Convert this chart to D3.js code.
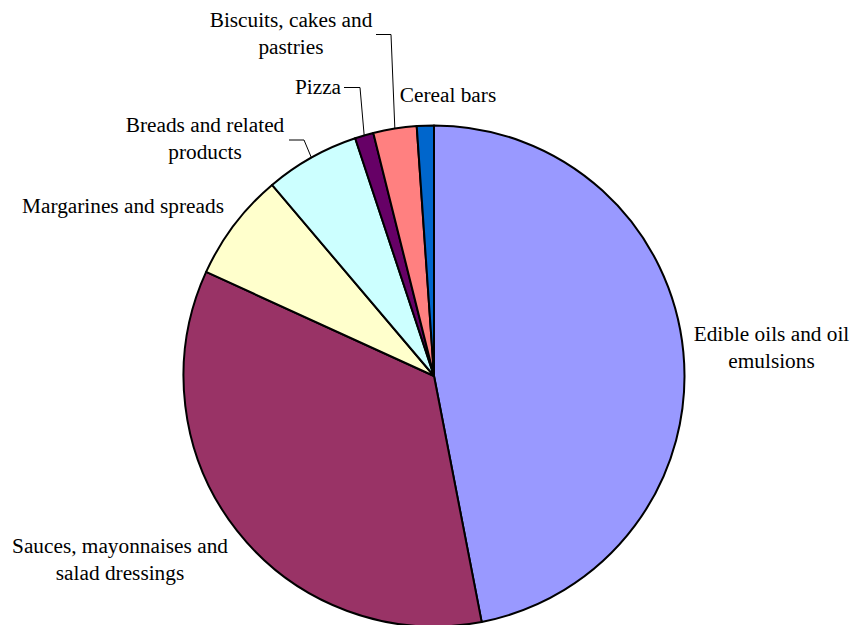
<!DOCTYPE html>
<html>
<head>
<meta charset="utf-8">
<script src="https://cdn.jsdelivr.net/npm/d3@7"></script>
<style>
  body { margin: 0; background: #fff; }
  svg { display: block; }
  text.label { font-family: 'Liberation Serif', 'Times New Roman', Times, serif; }
</style>
</head>
<body>
<div id="chart"></div>
<script>
// data (share of total, %)
const categories = [
  'Edible oils and oil emulsions',
  'Sauces, mayonnaises and salad dressings',
  'Margarines and spreads',
  'Breads and related products',
  'Pizza',
  'Biscuits, cakes and pastries',
  'Cereal bars'
];
const values = [47.0, 34.9, 7.0, 6.1, 1.2, 2.8, 1.1];
const colors = ['#9999FF', '#993366', '#FFFFCC', '#CCFFFF', '#660066', '#FF8080', '#0066CC'];

// label text lines, split as in the original
const labelLines = [
  ['Edible oils and oil', 'emulsions'],
  ['Sauces, mayonnaises and', 'salad dressings'],
  ['Margarines and spreads'],
  ['Breads and related', 'products'],
  ['Pizza'],
  ['Biscuits, cakes and', 'pastries'],
  ['Cereal bars']
];

const width = 852, height = 625;
const cx = 434, cy = 376, radius = 250.5;
const fontSize = 21.3, lineGap = 27;

// label placement: centre x, first baseline y, optional leader (start x, y, elbow x)
const labelLayout = [
  { x: 771.5, y: 341 },
  { x: 120, y: 553 },
  { x: 123, y: 213 },
  { x: 205, y: 132, leader: [289, 140, 304] },
  { x: 318, y: 94, leader: [344, 87.5, 360] },
  { x: 291, y: 27, leader: [376, 34.5, 391] },
  { x: 448, y: 102 }
];

const data = categories.map((c, i) => ({ name: c, value: values[i], color: colors[i], lines: labelLines[i], layout: labelLayout[i] }));

const pie = d3.pie().sort(null).value(d => d.value);
const arc = d3.arc().innerRadius(0).outerRadius(radius);
const arcs = pie(data);

const svg = d3.select('#chart').append('svg')
  .attr('width', width)
  .attr('height', height);

const g = svg.append('g')
  .attr('transform', `translate(${cx}, ${cy})`);

g.selectAll('path.slice')
  .data(arcs)
  .join('path')
  .attr('class', 'slice')
  .attr('d', arc)
  .attr('fill', d => d.data.color)
  .attr('stroke', '#000')
  .attr('stroke-width', 2)
  .attr('stroke-linejoin', 'round');

// leader lines from label to slice edge
arcs.filter(d => d.data.layout.leader).forEach(d => {
  const [sx, sy, ex] = d.data.layout.leader;
  const mid = (d.startAngle + d.endAngle) / 2;
  const px = cx + radius * Math.sin(mid);
  const py = cy - radius * Math.cos(mid);
  svg.append('polyline')
    .attr('points', `${sx},${sy} ${ex},${sy} ${px},${py}`)
    .attr('fill', 'none')
    .attr('stroke', '#000')
    .attr('stroke-width', 1);
});

// labels
const labels = svg.selectAll('text.label')
  .data(data)
  .join('text')
  .attr('class', 'label')
  .attr('text-anchor', 'middle')
  .style('font-size', fontSize + 'px')
  .attr('fill', '#000');

labels.selectAll('tspan')
  .data(d => d.lines.map((t, i) => ({ t, i, lay: d.layout })))
  .join('tspan')
  .attr('x', d => d.lay.x)
  .attr('y', d => d.lay.y + d.i * lineGap)
  .text(d => d.t);
</script>
</body>
</html>
